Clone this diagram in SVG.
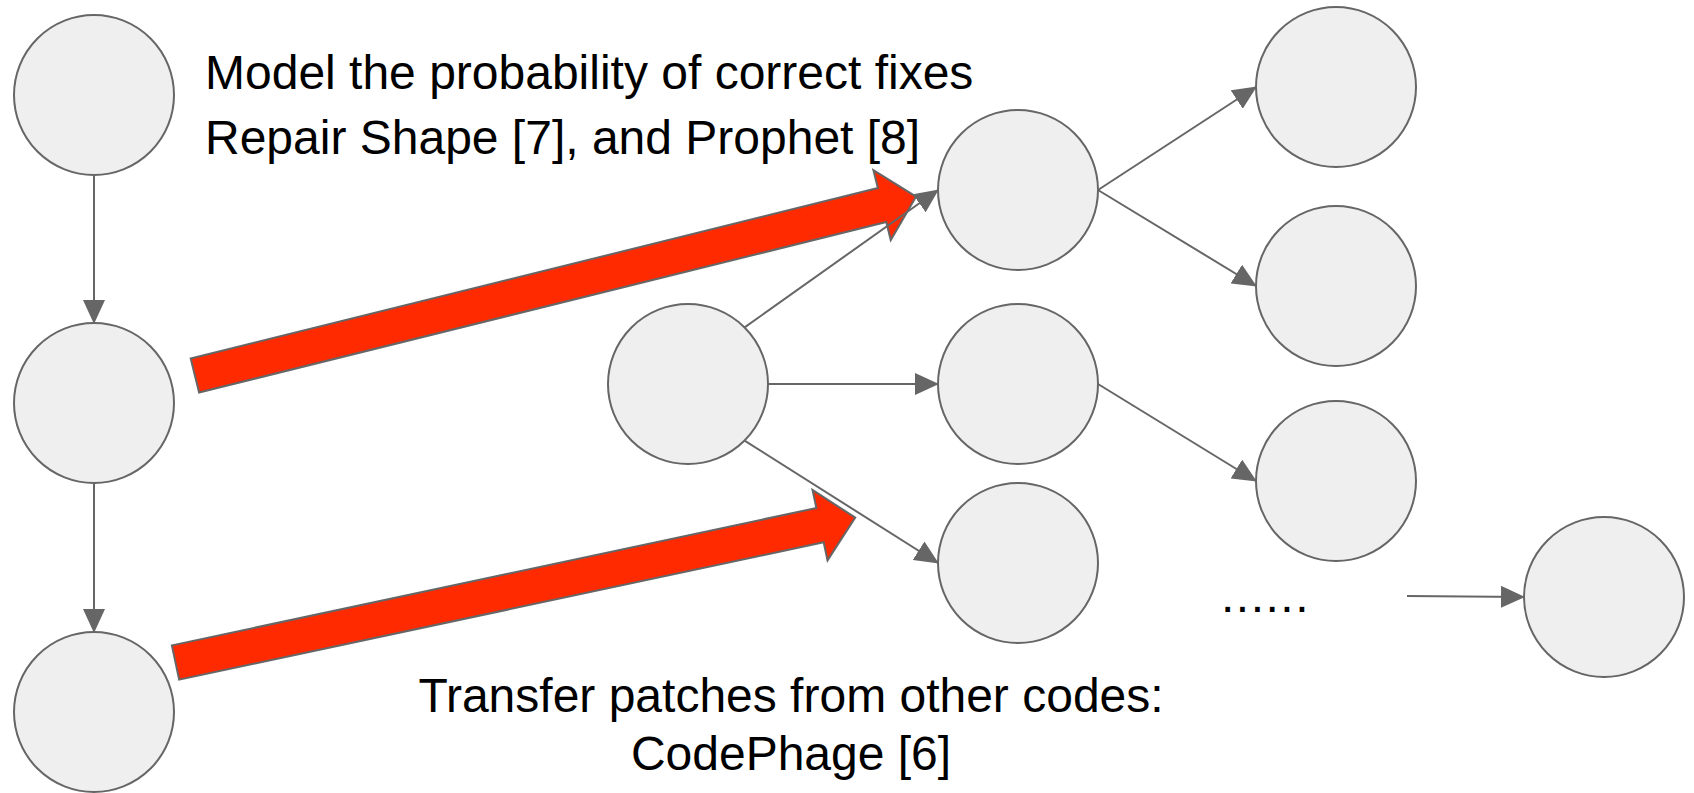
<svg xmlns="http://www.w3.org/2000/svg" width="1694" height="793" viewBox="0 0 1694 793">
  <style>
    .node { fill: #efefef; stroke: #666666; stroke-width: 2; }
    .edge { fill: none; stroke: #666666; stroke-width: 2; marker-end: url(#tri); }
    .big { fill: #ff2a00; stroke: #666666; stroke-width: 2; stroke-linejoin: miter; }
    .label { font-family: "Liberation Sans", Arial, sans-serif; font-size: 48px; fill: #000000; }
  </style>
  <defs>
    <marker id="tri" markerUnits="userSpaceOnUse" markerWidth="24" markerHeight="22" refX="23" refY="11" orient="auto">
      <path d="M0,0 L24,11 L0,22 z" fill="#666666"/>
    </marker>
  </defs>
  <rect width="1694" height="793" fill="#ffffff"/>

  <!-- left chain -->
  <g id="n-left-1"><circle class="node" cx="94" cy="95" r="80"/></g>
  <g id="n-left-2"><circle class="node" cx="94" cy="403" r="80"/></g>
  <g id="n-left-3"><circle class="node" cx="94" cy="712" r="80"/></g>

  <!-- search tree -->
  <g id="n-root"><circle class="node" cx="688" cy="384" r="80"/></g>
  <g id="n-top"><circle class="node" cx="1018" cy="190" r="80"/></g>
  <g id="n-mid"><circle class="node" cx="1018" cy="384" r="80"/></g>
  <g id="n-bot"><circle class="node" cx="1018" cy="563" r="80"/></g>
  <g id="n-r1"><circle class="node" cx="1336" cy="87" r="80"/></g>
  <g id="n-r2"><circle class="node" cx="1336" cy="286" r="80"/></g>
  <g id="n-r3"><circle class="node" cx="1336" cy="481" r="80"/></g>
  <g id="n-far"><circle class="node" cx="1604" cy="597" r="80"/></g>

  <!-- block arrows -->
  <g id="jump-model">
    <polygon class="big" transform="translate(194.9,375.5) rotate(-13.93)"
      points="0,-17.5 708,-17.5 708,-36 743,0 708,36 708,17.5 0,17.5"/>
  </g>
  <g id="jump-transfer">
    <polygon class="big" transform="translate(175.5,662.5) rotate(-12.03)"
      points="0,-17.5 659,-17.5 659,-36 695,0 659,36 659,17.5 0,17.5"/>
  </g>

  <!-- connectors -->
  <g id="connectors">
    <line class="edge" x1="94" y1="175" x2="94" y2="323"/>
    <line class="edge" x1="94" y1="483" x2="94" y2="632"/>
    <line class="edge" x1="744.6" y1="327.4" x2="938" y2="190"/>
    <line class="edge" x1="768" y1="384" x2="938" y2="384"/>
    <line class="edge" x1="744.6" y1="440.6" x2="938" y2="563"/>
    <line class="edge" x1="1098" y1="190" x2="1256" y2="87"/>
    <line class="edge" x1="1098" y1="190" x2="1256" y2="286"/>
    <line class="edge" x1="1098" y1="384" x2="1256" y2="481"/>
    <line class="edge" x1="1407" y1="596" x2="1524" y2="597"/>
  </g>

  <!-- labels -->
  <g id="label-model">
    <text class="label" x="205" y="89">Model the probability of correct fixes</text>
    <text class="label" x="205" y="154">Repair Shape [7], and Prophet [8]</text>
  </g>
  <g id="label-transfer">
    <text class="label" x="791" y="712" text-anchor="middle">Transfer patches from other codes:</text>
    <text class="label" x="791" y="770" text-anchor="middle">CodePhage [6]</text>
  </g>
  <g id="label-more">
    <text class="label" x="1221" y="612" letter-spacing="1.5">......</text>
  </g>
</svg>
